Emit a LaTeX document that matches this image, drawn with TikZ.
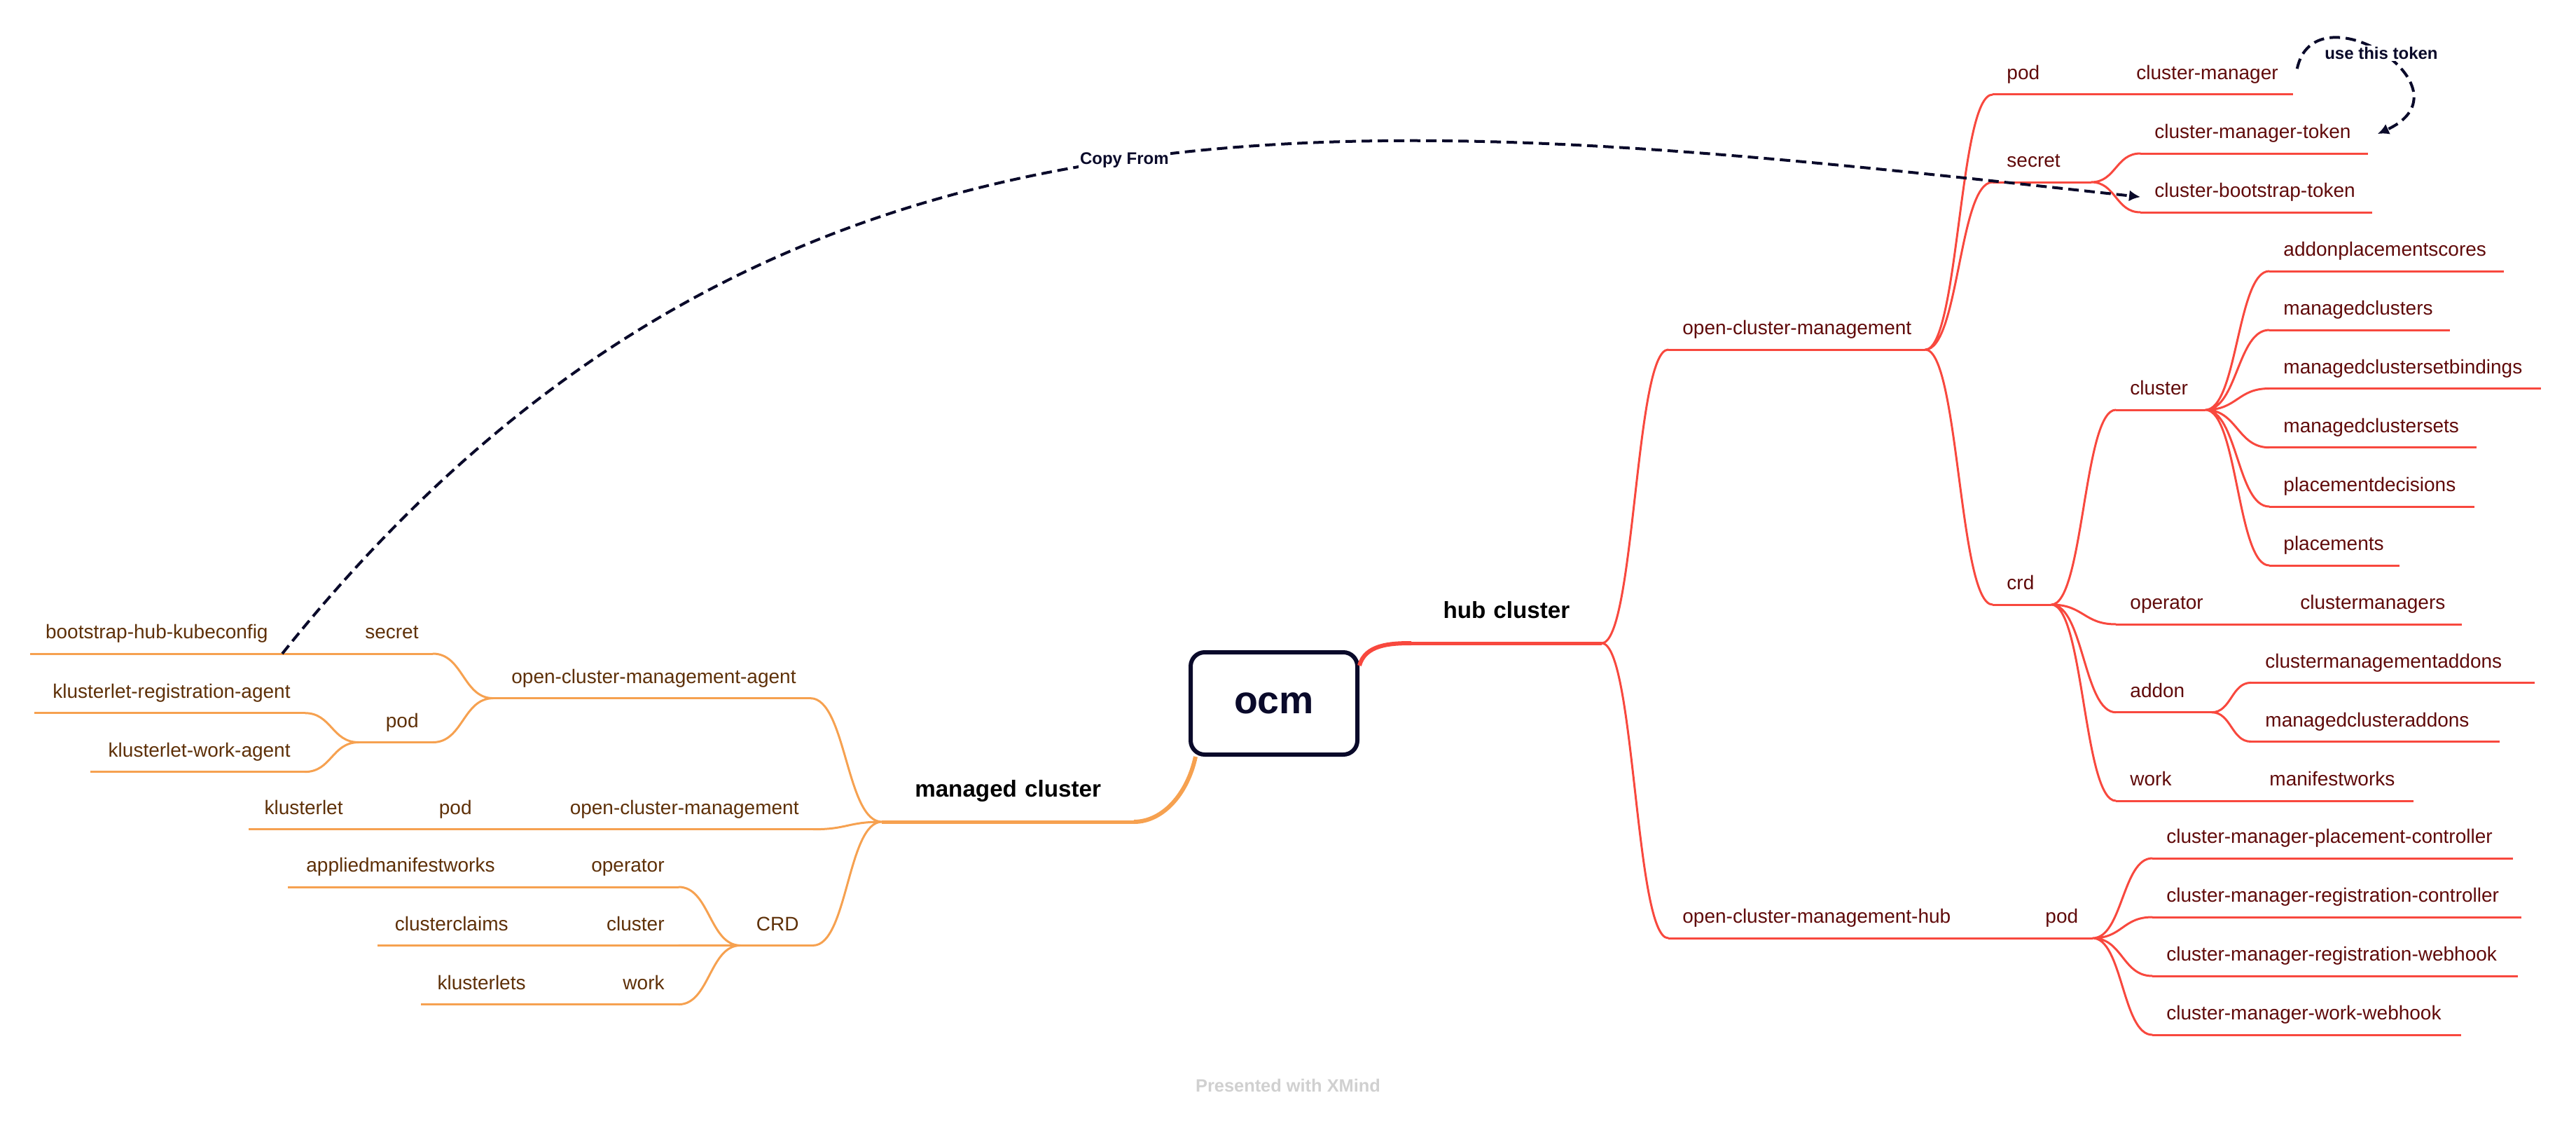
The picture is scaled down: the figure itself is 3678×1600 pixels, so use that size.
\documentclass[tikz,border=0pt]{standalone}
\usepackage{fontspec}
\setmainfont{Liberation Sans}
\usetikzlibrary{arrows.meta,calc}
\definecolor{ocmNavy}{RGB}{10,10,42}
\definecolor{hubRed}{RGB}{248,72,62}
\definecolor{hubText}{RGB}{96,10,10}
\definecolor{mcOrange}{RGB}{246,161,80}
\definecolor{mcText}{RGB}{94,48,8}
\definecolor{xmGray}{RGB}{208,208,208}
\exhyphenpenalty=10000
\hyphenpenalty=10000
\tikzset{
  rootbox/.style={
    draw=ocmNavy,
    line width=3pt,
    rounded corners=10pt,
    fill=white,
    minimum width=119pt,
    minimum height=73pt,
    text=ocmNavy,
    font=\bfseries\fontsize{27.7pt}{32pt}\selectfont
  },
  maintopic/.style={
    inner xsep=10pt,
    inner ysep=13.5pt,
    text height=12pt,
    text depth=4pt,
    align=center,
    text=black,
    font=\bfseries\fontsize{16.6pt}{19pt}\selectfont
  },
  topicbase/.style={
    inner xsep=10pt,
    inner ysep=7pt,
    text height=10pt,
    text depth=3.5pt,
    font=\fontsize{14pt}{16pt}\selectfont
  },
  hubtopic/.style={topicbase, anchor=south west, align=left, text=hubText},
  mctopic/.style={topicbase, anchor=south east, align=right, text=mcText},
  hubline/.style={draw=hubRed, line width=1.5pt},
  mcline/.style={draw=mcOrange, line width=1.5pt},
  sbranch/.style={
    line cap=round,
    to path={.. controls ($(\tikztostart)!0.5!(\tikztostart -| \tikztotarget)$)
      and ($(\tikztotarget)!0.5!(\tikztotarget -| \tikztostart)$) .. (\tikztotarget)}
  },
  hubbranch/.style={hubline, sbranch},
  mcbranch/.style={mcline, sbranch},
  linkarrow/.style={
    draw=ocmNavy,
    line width=2pt,
    dash pattern=on 7.5pt off 4pt,
    -{Latex[length=8pt,width=8pt]}
  },
  linklabel/.style={
    fill=white,
    inner sep=1pt,
    text=ocmNavy,
    font=\bfseries\fontsize{12pt}{14pt}\selectfont
  }
}

\begin{document}
\begin{tikzpicture}[x=0.5pt,y=-0.5pt]
  \useasboundingbox (0,0) rectangle (3678,1600);

  % root
  \node[rootbox] (ocmbox) at (1819,1004) {ocm};

  % hub cluster side
  \node[maintopic, anchor=south west, text width=115.5pt] (hub) at (2015,918) {hub cluster};
  \node[hubtopic, text width=163pt] (rocm) at (2382,499) {open-cluster-management};
  \node[hubtopic, text width=240pt] (rhub) at (2382,1339) {open-cluster-management-hub};
  \node[hubtopic, text width=23.5pt] (rpod) at (2900,1339) {pod};
  \node[hubtopic, text width=237pt] (cmpc) at (3073,1225) {cluster-manager-placement-controller};
  \node[hubtopic, text width=243pt] (cmrc) at (3073,1309) {cluster-manager-registration-controller};
  \node[hubtopic, text width=240.5pt] (cmrw) at (3073,1393) {cluster-manager-registration-webhook};
  \node[hubtopic, text width=200pt] (cmww) at (3073,1477) {cluster-manager-work-webhook};

  \node[hubtopic, text width=72.5pt] (tpod) at (2845,135) {pod};
  \node[hubtopic, text width=101.5pt] (cm) at (3030,135) {cluster-manager};
  \node[hubtopic, text width=50pt] (tsecret) at (2845,260) {secret};
  \node[hubtopic, text width=142pt] (cmtoken) at (3056,219) {cluster-manager-token};
  \node[hubtopic, text width=145pt] (cbtoken) at (3056,303) {cluster-bootstrap-token};
  \node[hubtopic, text width=21.5pt] (crd) at (2845,863) {crd};

  \node[hubtopic, text width=43.5pt] (ccluster) at (3021,585) {cluster};
  \node[hubtopic, text width=147pt] (aps) at (3240,387) {addonplacementscores};
  \node[hubtopic, text width=108.5pt] (mcs) at (3240,471) {managedclusters};
  \node[hubtopic, text width=173.5pt] (mcsb) at (3240,554.5) {managedclustersetbindings};
  \node[hubtopic, text width=127.5pt] (mcss) at (3240,638.7) {managedclustersets};
  \node[hubtopic, text width=126pt] (pd) at (3240,723) {placementdecisions};
  \node[hubtopic, text width=72.5pt] (pl) at (3240,807) {placements};
  \node[hubtopic, text width=101.5pt] (cop) at (3021,891) {operator};
  \node[hubtopic, text width=105pt] (cmgr) at (3264,891) {clustermanagers};
  \node[hubtopic, text width=48pt] (caddon) at (3021,1016.7) {addon};
  \node[hubtopic, text width=182pt] (cma) at (3214,974.4) {clustermanagementaddons};
  \node[hubtopic, text width=157pt] (mca) at (3214,1058.5) {managedclusteraddons};
  \node[hubtopic, text width=79.5pt] (cwork) at (3021,1143) {work};
  \node[hubtopic, text width=92.5pt] (mfw) at (3220,1143) {manifestworks};

  % managed cluster side
  \node[maintopic, anchor=south east, text width=159.5pt] (mc) at (1619,1173) {managed cluster};
  \node[mctopic, text width=206pt] (agent) at (1157,996.6) {open-cluster-management-agent};
  \node[mctopic, text width=87.5pt] (lsecret) at (618,933) {secret};
  \node[mctopic, text width=159.5pt] (kubeconfig) at (403,933) {bootstrap-hub-kubeconfig};
  \node[mctopic, text width=32.5pt] (lpod) at (618,1059.5) {pod};
  \node[mctopic, text width=172.5pt] (regagent) at (435,1017.7) {klusterlet-registration-agent};
  \node[mctopic, text width=132.5pt] (workagent) at (435,1101.7) {klusterlet-work-agent};
  \node[mctopic, text width=213.5pt] (kocm) at (1161,1183.7) {open-cluster-management};
  \node[mctopic, text width=72pt] (kpod) at (694,1183.7) {pod};
  \node[mctopic, text width=57pt] (klet) at (510,1183.7) {klusterlet};
  \node[mctopic, text width=31.5pt] (lcrd) at (1161,1349.4) {CRD};
  \node[mctopic, text width=101pt] (lop) at (969,1266) {operator};
  \node[mctopic, text width=137.5pt] (amw) at (727,1266) {appliedmanifestworks};
  \node[mctopic, text width=91.5pt] (lcl) at (969,1349.4) {cluster};
  \node[mctopic, text width=83pt] (ccl) at (746,1349.4) {clusterclaims};
  \node[mctopic, text width=79pt] (lwk) at (969,1433.6) {work};
  \node[mctopic, text width=64.5pt] (klets) at (771,1433.6) {klusterlets};

  \node[font=\bfseries\fontsize{12.7pt}{15pt}\selectfont, text=xmGray, anchor=base] (xmind)
    at (1839,1558) {Presented with XMind};

  % underlines
  \foreach \n in {rocm,rhub,rpod,cmpc,cmrc,cmrw,cmww,tpod,cm,tsecret,cmtoken,cbtoken,crd,
      ccluster,aps,mcs,mcsb,mcss,pd,pl,cop,cmgr,caddon,cma,mca,cwork,mfw}
    \draw[hubline] (\n.south west) -- (\n.south east);
  \foreach \n in {agent,lsecret,kubeconfig,lpod,regagent,workagent,kocm,kpod,klet,
      lcrd,lop,amw,lcl,ccl,lwk,klets}
    \draw[mcline] (\n.south west) -- (\n.south east);
  \draw[hubline, line width=2.5pt] (hub.south west) -- (hub.south east);
  \draw[mcline, line width=2.5pt] (mc.south west) -- (mc.south east);

  % root connectors
  \draw[hubline, line width=3pt] ([yshift=-11pt]ocmbox.north east)
    .. controls +(8,-30) and +(-30,0) .. (hub.south west);
  \draw[mcline, line width=3pt] ([xshift=5pt]ocmbox.south west)
    .. controls +(-12,55) and +(40,0) .. (mc.south east);

  % hub branches
  \draw[hubbranch] (hub.south east) to (rocm.south west) (hub.south east) to (rhub.south west);
  \draw[hubbranch] (rpod.south east) to (cmpc.south west) (rpod.south east) to (cmrc.south west)
    (rpod.south east) to (cmrw.south west) (rpod.south east) to (cmww.south west);
  \draw[hubbranch] (rocm.south east) to (tpod.south west) (rocm.south east) to (tsecret.south west)
    (rocm.south east) to (crd.south west);
  \draw[hubbranch] (tsecret.south east) to (cmtoken.south west)
    (tsecret.south east) to (cbtoken.south west);
  \draw[hubbranch] (crd.south east) to (ccluster.south west) (crd.south east) to (cop.south west)
    (crd.south east) to (caddon.south west) (crd.south east) to (cwork.south west);
  \draw[hubbranch] (ccluster.south east) to (aps.south west) (ccluster.south east) to (mcs.south west)
    (ccluster.south east) to (mcsb.south west) (ccluster.south east) to (mcss.south west)
    (ccluster.south east) to (pd.south west) (ccluster.south east) to (pl.south west);
  \draw[hubbranch] (caddon.south east) to (cma.south west) (caddon.south east) to (mca.south west);

  % managed cluster branches
  \draw[mcbranch] (mc.south west) to (agent.south east) (mc.south west) to (kocm.south east)
    (mc.south west) to (lcrd.south east);
  \draw[mcbranch] (agent.south west) to (lsecret.south east) (agent.south west) to (lpod.south east);
  \draw[mcbranch] (lpod.south west) to (regagent.south east) (lpod.south west) to (workagent.south east);
  \draw[mcbranch] (lcrd.south west) to (lop.south east) (lcrd.south west) to (lcl.south east)
    (lcrd.south west) to (lwk.south east);

  % relations
  \draw[linkarrow] (kubeconfig.south east) .. controls +(704,-880) and +(-1105,-120) ..
    node[linklabel, pos=0.51] {Copy From} ([yshift=-3pt]cbtoken.west);
  \draw[linkarrow] ([shift={(3pt,4.5pt)}]cm.east) .. controls +(25,-118) and +(142,-65) ..
    node[linklabel, pos=0.5] {use this token} ([xshift=7pt]cmtoken.east);
\end{tikzpicture}
\end{document}
